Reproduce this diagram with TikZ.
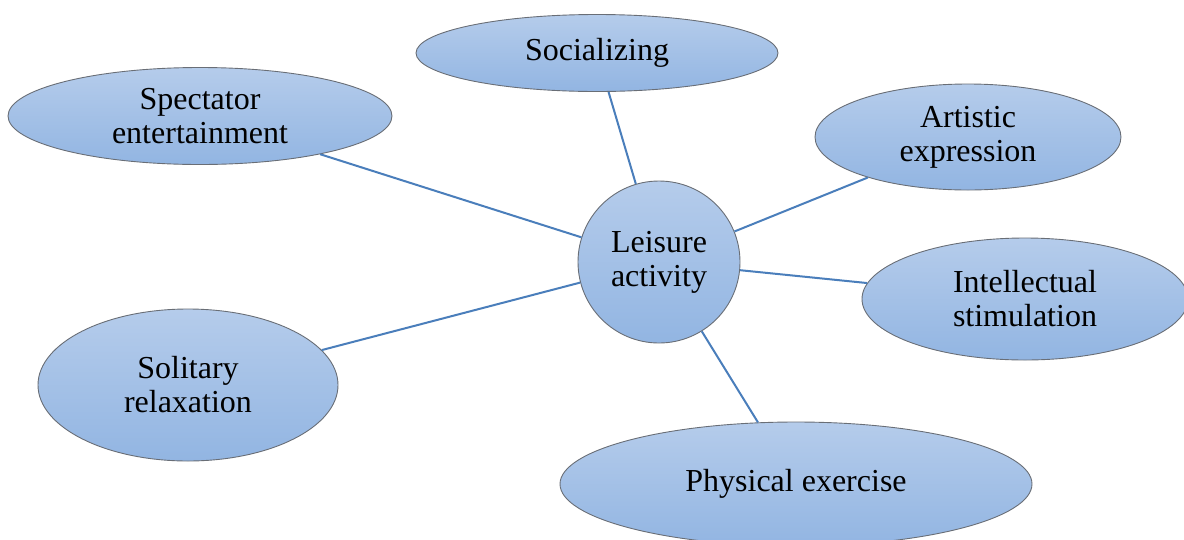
\documentclass[tikz,border=0pt]{standalone}
\usepackage{fontspec}
\setmainfont{Liberation Serif}
\usetikzlibrary{shapes.geometric}
\definecolor{topblue}{RGB}{181,204,235}
\definecolor{botblue}{RGB}{146,181,226}
\definecolor{edgegray}{RGB}{105,110,118}
\definecolor{linkblue}{RGB}{74,126,187}
\tikzset{
  bubble/.style={ellipse, draw=edgegray, line width=0.9pt, top color=topblue, bottom color=botblue, inner sep=0pt, align=center, font=\fontsize{32}{34}\selectfont},
  hub/.style={circle, draw=edgegray, line width=0.9pt, top color=topblue, bottom color=botblue, inner sep=0pt, minimum size=162pt, align=center, font=\fontsize{32}{34}\selectfont},
  link/.style={draw=linkblue, line width=2pt}
}
\begin{document}
\begin{tikzpicture}[x=1pt,y=-1pt]
\useasboundingbox (0,0) rectangle (1184,539);
\node[hub] (c) at (659,262) {Leisure\\activity};
\node[bubble, minimum width=362pt, minimum height=77pt] (soc) at (597,53) {Socializing};
\node[bubble, minimum width=384pt, minimum height=97pt] (spe) at (200,116) {Spectator\\entertainment};
\node[bubble, minimum width=306pt, minimum height=106pt] (art) at (968,137) {Artistic\\expression};
\node[bubble, minimum width=326pt, minimum height=122pt] (int) at (1025,299) {Intellectual\\stimulation};
\node[bubble, minimum width=300pt, minimum height=152pt] (sol) at (188,385) {Solitary\\relaxation};
\node[bubble, minimum width=472pt, minimum height=124pt] (phy) at (796,484) {Physical exercise};
\draw[link] (c) -- (soc);
\draw[link] (c) -- (spe);
\draw[link] (c) -- (art);
\draw[link] (c) -- (int);
\draw[link] (c) -- (sol);
\draw[link] (c) -- (phy);
\end{tikzpicture}
\end{document}
